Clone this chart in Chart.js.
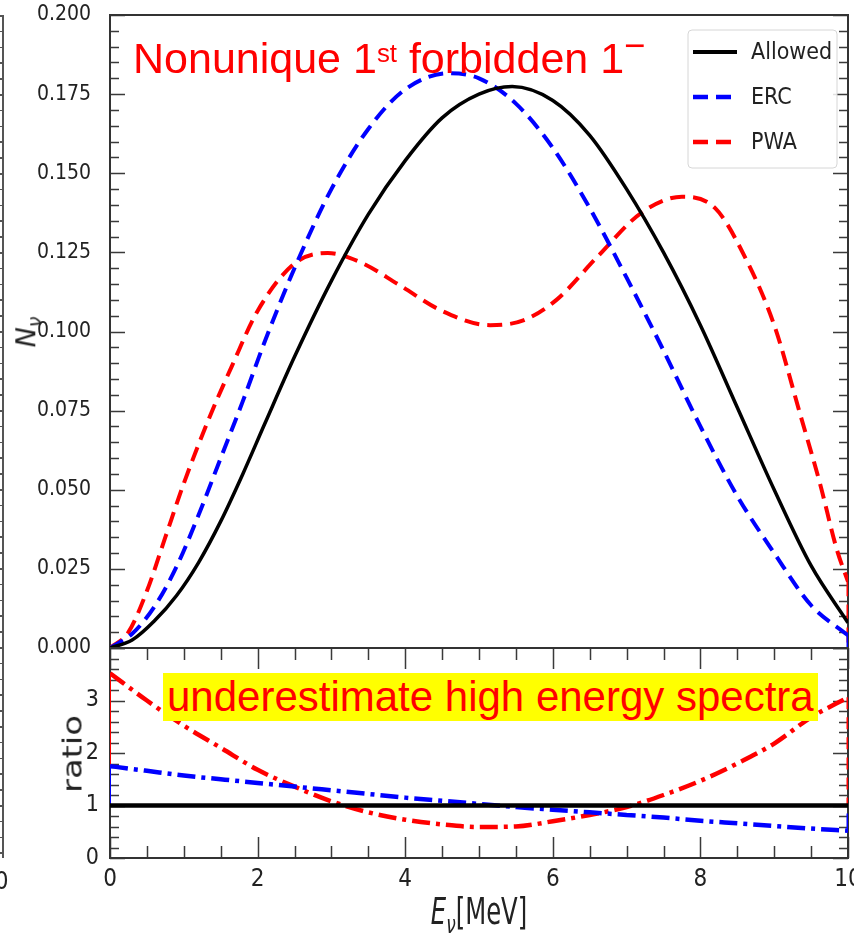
<!DOCTYPE html>
<html>
<head>
<meta charset="utf-8">
<script src="https://cdn.jsdelivr.net/npm/chart.js@4.4.1/dist/chart.umd.min.js"></script>
<style>
body { margin: 0; background: #fff; }
#quadro { position: relative; width: 854px; height: 940px; overflow: hidden; font-family: "DejaVu Sans Condensed", "DejaVu Sans", sans-serif; }
canvas { position: absolute; left: 0; top: 0; }
.rotulo { position: absolute; color: #222; white-space: nowrap; line-height: 1; }
#titulo { position: absolute; left: 133px; top: 37px; font: 43px "Liberation Sans", Arial, sans-serif; line-height: 1; color: #ff0000; white-space: nowrap; }
#titulo sup { line-height: 0; }
#destaque { position: absolute; left: 163px; top: 673px; height: 48px; padding: 0 4px; background: #ffff00; color: #ff0000; font: 42px "Liberation Sans", Arial, sans-serif; line-height: 48px; white-space: nowrap; }
#vizinho { position: absolute; left: 0; top: 15px; width: 2px; height: 843px; border-right: 2px solid #555;
  background: repeating-linear-gradient(to bottom, #555 0, #555 1.5px, transparent 1.5px, transparent 15.8px); }
</style>
</head>
<body>
<div id="quadro">
  <canvas id="grafico_espectro" width="854" height="940"></canvas>
  <canvas id="grafico_ratio" width="854" height="940"></canvas>
  <div id="vizinho"></div>
  <div class="rotulo" style="left:-19px; top:869px; font-size:24px;">10</div>
  <div class="rotulo" style="left:28px; top:332px; font: italic 27px 'DejaVu Sans', sans-serif; transform: translate(-50%,-50%) rotate(-90deg);">N<sub style="font-size:0.7em">ν</sub></div>
  <div class="rotulo" style="left:72px; top:754px; font: 27px 'DejaVu Sans', sans-serif; transform: translate(-50%,-50%) rotate(-90deg) scaleX(1.25);">ratio</div>
  <div class="rotulo" style="left:479px; top:915px; font-size:27px; transform: translate(-50%,-50%) scaleY(1.35);"><i>E</i><sub style="font-size:0.7em"><i>ν</i></sub>[MeV]</div>
  <div id="titulo">Nonunique 1<sup style="font-size:0.6em; vertical-align:0.42em">st</sup> forbidden 1<sup style="font-size:0.85em; vertical-align:0.4em">−</sup></div>
  <div id="destaque">underestimate high energy spectra</div>
</div>
<script>
// ── Dados ──────────────────────────────────────────────
const energias_allowed = [0, 0.3, 0.6, 0.9, 1.2, 1.5, 1.8, 2.1, 2.5, 3.0, 3.5, 4.0, 4.5, 5.0, 5.45, 6.0, 6.5, 7.0, 7.5, 8.0, 8.5, 9.0, 9.5, 10];
const allowed = [0, 0.0025, 0.0085, 0.0165, 0.027, 0.040, 0.055, 0.071, 0.092, 0.116, 0.137, 0.154, 0.1675, 0.175, 0.1774, 0.173, 0.162, 0.145, 0.125, 0.102, 0.076, 0.050, 0.026, 0.008];

const energias_erc = [0, 0.3, 0.6, 0.9, 1.2, 1.5, 1.8, 2.1, 2.5, 3.0, 3.5, 4.0, 4.6, 5.0, 5.5, 6.0, 6.5, 7.0, 7.5, 8.0, 8.5, 9.0, 9.5, 10];
const erc = [0, 0.0045, 0.013, 0.0256, 0.042, 0.060, 0.078, 0.097, 0.120, 0.145, 0.164, 0.1765, 0.1816, 0.180, 0.172, 0.158, 0.139, 0.117, 0.094, 0.070, 0.048, 0.030, 0.0135, 0.004];

const energias_pwa = [0, 0.25, 0.5, 0.75, 1.0, 1.35, 1.65, 2.0, 2.5, 2.95, 3.4, 3.9, 4.5, 5.15, 5.6, 6.05, 6.6, 7.2, 7.75, 8.2, 8.55, 9.0, 9.35, 9.62, 9.85, 10];
const pwa = [0, 0.005, 0.018, 0.035, 0.052, 0.073, 0.089, 0.1065, 0.1215, 0.1248, 0.1218, 0.115, 0.1065, 0.102, 0.1035, 0.110, 0.1235, 0.1375, 0.1426, 0.139, 0.126, 0.102, 0.074, 0.052, 0.031, 0.021];

// queda vertical na borda E = 10
const borda_x = [10, 10];
const pwa_borda = [0.021, 0];
const erc_borda = [0.004, 0];

const energias_ratio = [0, 0.5, 1, 1.5, 2, 2.5, 3, 3.5, 4, 4.5, 5, 5.5, 6, 6.5, 7, 7.5, 8, 8.5, 9, 9.5, 10];
const ratio_allowed = [1, 1, 1, 1, 1, 1, 1, 1, 1, 1, 1, 1, 1, 1, 1, 1, 1, 1, 1, 1, 1];
const ratio_erc = [1.75, 1.66, 1.57, 1.50, 1.43, 1.36, 1.29, 1.22, 1.15, 1.09, 1.03, 0.97, 0.92, 0.87, 0.82, 0.77, 0.71, 0.66, 0.61, 0.56, 0.52];
const ratio_pwa = [3.52, 3.00, 2.52, 2.10, 1.68, 1.36, 1.08, 0.87, 0.73, 0.64, 0.59, 0.60, 0.70, 0.82, 0.97, 1.20, 1.47, 1.80, 2.18, 2.68, 3.06];

// bordas verticais do painel ratio (E = 0 e E = 10)
const ratio_esq_x = [0, 0];
const ratio_dir_x = [10, 10];
const ratio_pwa_esq = [1, 3.52];
const ratio_pwa_dir = [3.06, 1.0];
const ratio_erc_esq = [1, 1.75];
const ratio_erc_dir = [0.52, 0.85];

const legenda_nomes = ["Allowed", "ERC", "PWA"];
const ticks_y = [0, 0.025, 0.05, 0.075, 0.1, 0.125, 0.15, 0.175, 0.2];
// ─────────────────────────────────────────────────────────

Chart.defaults.font.family = '"DejaVu Sans Condensed", "DejaVu Sans", sans-serif';
Chart.defaults.color = "#222";

function pares(xs, ys) {
    return xs.map((x, i) => ({ x: x, y: ys[i] }));
}

function serie(label, xs, ys, cor, largura, traco, naLegenda) {
    return {
        label: label,
        data: pares(xs, ys),
        borderColor: cor,
        borderWidth: largura,
        borderDash: traco,
        pointRadius: 0,
        fill: false,
        cubicInterpolationMode: "monotone",
        naLegenda: naLegenda
    };
}

const TRACO = [15, 8];
const TRACO_PONTO = [18, 6, 4, 6];

// ── Moldura com ticks para dentro ─────────────────────────
function multiplo(v, m) {
    return Math.abs(v / m - Math.round(v / m)) < 1e-6;
}

const moldura = {
    id: "moldura",
    beforeDatasetsDraw(chart, args, opts) {
        const { ctx, chartArea: a, scales } = chart;
        ctx.save();
        ctx.strokeStyle = "#3a3a3a";
        ctx.lineWidth = 1.5;
        ctx.beginPath();
        if (opts.y) {
            const esc = scales.y;
            const n = Math.round((esc.max - esc.min) / opts.y.passo);
            for (let i = 0; i <= n; i++) {
                const v = esc.min + i * opts.y.passo;
                const py = Math.round(esc.getPixelForValue(v)) + 0.5;
                const len = multiplo(v, opts.y.maior) ? 15 : 9;
                ctx.moveTo(a.left, py); ctx.lineTo(a.left + len, py);
                ctx.moveTo(a.right, py); ctx.lineTo(a.right - len, py);
            }
        }
        if (opts.x) {
            const esc = scales.x;
            const n = Math.round((esc.max - esc.min) / opts.x.passo);
            for (let i = 0; i <= n; i++) {
                const v = esc.min + i * opts.x.passo;
                const px = Math.round(esc.getPixelForValue(v)) + 0.5;
                const len = multiplo(v, opts.x.maior) ? 21 : 12;
                ctx.moveTo(px, a.bottom); ctx.lineTo(px, a.bottom - len);
                ctx.moveTo(px, a.top); ctx.lineTo(px, a.top + len);
            }
        }
        ctx.stroke();
        ctx.lineWidth = 2;
        ctx.strokeStyle = "#333";
        ctx.strokeRect(a.left, a.top, a.right - a.left, a.bottom - a.top);
        ctx.restore();
    }
};

// ── Legenda desenhada no canto ────────────────────────────
const legenda = {
    id: "legenda",
    afterDraw(chart) {
        const ctx = chart.ctx;
        const itens = chart.data.datasets.filter(d => d.naLegenda);
        ctx.save();
        ctx.beginPath();
        ctx.roundRect(688, 30, 149, 138, 4);
        ctx.fillStyle = "rgba(255,255,255,0.85)";
        ctx.fill();
        ctx.strokeStyle = "#d6d6d6";
        ctx.lineWidth = 1;
        ctx.stroke();
        itens.forEach((d, i) => {
            const y = 52 + i * 45;
            ctx.beginPath();
            ctx.setLineDash(d.borderDash || []);
            ctx.strokeStyle = d.borderColor;
            ctx.lineWidth = d.borderWidth + 0.5;
            ctx.moveTo(693, y);
            ctx.lineTo(737, y);
            ctx.stroke();
            ctx.setLineDash([]);
            ctx.fillStyle = "#222";
            ctx.font = '23px "DejaVu Sans Condensed", "DejaVu Sans", sans-serif';
            ctx.textBaseline = "middle";
            ctx.fillText(d.label, 751, y + 1);
        });
        ctx.restore();
    }
};

function semPadding(s) {
    s.paddingLeft = 0; s.paddingRight = 0; s.paddingTop = 0; s.paddingBottom = 0;
}

// ── Painel de cima: espectro ──────────────────────────────
new Chart(document.getElementById("grafico_espectro").getContext("2d"), {
    type: "line",
    data: {
        datasets: [
            serie(legenda_nomes[0], energias_allowed, allowed, "#000000", 3.5, [], true),
            serie(legenda_nomes[1], energias_erc, erc, "#0000ff", 4, TRACO, true),
            serie(legenda_nomes[2], energias_pwa, pwa, "#ff0000", 4, TRACO, true),
            serie("erc_borda", borda_x, erc_borda, "#0000ff", 3, TRACO, false),
            serie("pwa_borda", borda_x, pwa_borda, "#ff0000", 3, TRACO, false)
        ]
    },
    options: {
        responsive: false,
        animation: false,
        events: [],
        layout: { padding: { top: 15, right: 6, bottom: 292, left: 0 } },
        plugins: {
            legend: { display: false },
            tooltip: { enabled: false },
            moldura: { y: { passo: 0.005, maior: 0.025 } }
        },
        scales: {
            x: { type: "linear", min: 0, max: 10, display: false },
            y: {
                type: "linear", min: 0, max: 0.2,
                afterBuildTicks: s => { s.ticks = ticks_y.map(v => ({ value: v })); },
                afterFit: s => { s.width = 110; semPadding(s); },
                ticks: { callback: v => v.toFixed(3), padding: 11, font: { size: 21 }, color: "#222" },
                grid: { display: false },
                border: { display: false }
            }
        }
    },
    plugins: [moldura, legenda]
});

// ── Painel de baixo: ratio ────────────────────────────────
new Chart(document.getElementById("grafico_ratio").getContext("2d"), {
    type: "line",
    data: {
        datasets: [
            serie("Allowed", energias_ratio, ratio_allowed, "#000000", 4.5, [], false),
            serie("ERC", energias_ratio, ratio_erc, "#0000ff", 4.5, TRACO_PONTO, false),
            serie("PWA", energias_ratio, ratio_pwa, "#ff0000", 4.5, TRACO_PONTO, false),
            serie("erc_esq", ratio_esq_x, ratio_erc_esq, "#0000ff", 2, [], false),
            serie("erc_dir", ratio_dir_x, ratio_erc_dir, "#0000ff", 3, [], false),
            serie("pwa_esq", ratio_esq_x, ratio_pwa_esq, "#ff0000", 2, [], false),
            serie("pwa_dir", ratio_dir_x, ratio_pwa_dir, "#ff0000", 3, [12, 8], false)
        ]
    },
    options: {
        responsive: false,
        animation: false,
        events: [],
        layout: { padding: { top: 648, right: 6, bottom: 0, left: 0 } },
        plugins: {
            legend: { display: false },
            tooltip: { enabled: false },
            moldura: { y: { passo: 0.2, maior: 1 }, x: { passo: 0.5, maior: 2 } }
        },
        scales: {
            x: {
                type: "linear", min: 0, max: 10,
                afterFit: s => { s.height = 82; semPadding(s); },
                ticks: { stepSize: 2, padding: 7, font: { size: 24 }, color: "#222", maxRotation: 0 },
                grid: { display: false, drawTicks: false },
                border: { display: false }
            },
            y: {
                type: "linear", min: 0, max: 4,
                afterFit: s => { s.width = 110; semPadding(s); },
                ticks: { stepSize: 1, callback: v => (v < 4 ? v : null), padding: 11, font: { size: 23 }, color: "#222" },
                grid: { display: false, drawTicks: false },
                border: { display: false }
            }
        }
    },
    plugins: [moldura]
});
</script>
</body>
</html>
